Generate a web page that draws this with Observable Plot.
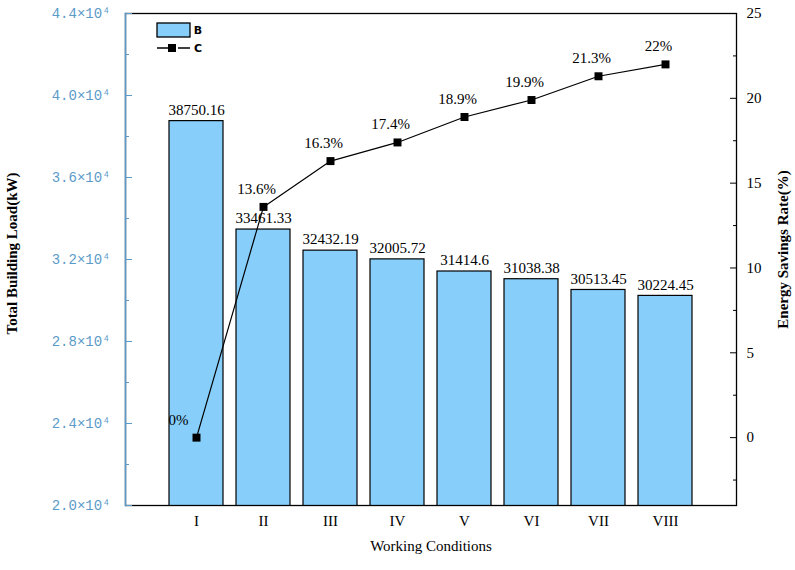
<!DOCTYPE html>
<html>
<head>
<meta charset="utf-8">
<script src="https://cdn.jsdelivr.net/npm/d3@7"></script>
<script src="https://cdn.jsdelivr.net/npm/@observablehq/plot@0.6"></script>
<style>
  html, body { margin: 0; padding: 0; background: #fff; }
  #chart { position: relative; width: 795px; height: 570px; }
</style>
</head>
<body>
<div id="chart"></div>
<script>
// ---- data ----
const categories = ["I", "II", "III", "IV", "V", "VI", "VII", "VIII"];
const buildingLoad = [38750.16, 33461.33, 32432.19, 32005.72, 31414.6, 31038.38, 30513.45, 30224.45];
const loadLabels = ["38750.16", "33461.33", "32432.19", "32005.72", "31414.6", "31038.38", "30513.45", "30224.45"];
const savingsRate = [0, 13.6, 16.3, 17.4, 18.9, 19.9, 21.3, 22];
const rateLabels = ["0%", "13.6%", "16.3%", "17.4%", "18.9%", "19.9%", "21.3%", "22%"];
const leftTicks = [20000, 24000, 28000, 32000, 36000, 40000, 44000];
const leftMinor = [22000, 26000, 30000, 34000, 38000, 42000];
const rightTicks = [0, 5, 10, 15, 20, 25];
const rightMinor = [-2.5, 2.5, 7.5, 12.5, 17.5, 22.5];
const leftDomain = [20000, 44000];
const rightDomain = [-4, 25];

// map right-axis (percent) values onto the left scale
const toLeft = p => leftDomain[0] + (p - rightDomain[0]) * (leftDomain[1] - leftDomain[0]) / (rightDomain[1] - rightDomain[0]);

const data = categories.map((c, i) => ({
  cat: c, load: buildingLoad[i], loadLabel: loadLabels[i],
  rate: savingsRate[i], rateLabel: rateLabels[i], yr: toLeft(savingsRate[i]), i
}));

const BLUE = "#5b9bc9";
const SERIF = "'Liberation Serif', 'Times New Roman', serif";
const MONO = "'Liberation Mono', 'DejaVu Sans Mono', monospace";

const sup = {"0":"⁰","1":"¹","2":"²","3":"³","4":"⁴","5":"⁵","6":"⁶","7":"⁷","8":"⁸","9":"⁹"};
const sci = v => (v / 1e4).toFixed(1) + "×10" + sup["4"];

const chart = Plot.plot({
  width: 795,
  height: 570,
  marginLeft: 125,
  marginRight: 59,
  marginTop: 13,
  marginBottom: 65,
  style: { fontFamily: SERIF, fontSize: "15px", background: "#fff", color: "#000", overflow: "visible" },
  x: { type: "band", domain: categories, paddingInner: 0.2, paddingOuter: 0.6, label: null },
  y: { domain: leftDomain, label: null },
  marks: [
    Plot.barY(data, { x: "cat", y: "load", fill: "#87cefa", stroke: "#000", strokeWidth: 1.2, clip: true }),
    Plot.text(data, { x: "cat", y: "load", text: "loadLabel", dy: -11, fontSize: 15, letterSpacing: 0.5 }),
    Plot.line(data, { x: "cat", y: "yr", stroke: "#000", strokeWidth: 1.2 }),
    Plot.dot(data, { x: "cat", y: "yr", symbol: "square", r: 4.5, fill: "#000", stroke: "none" }),
    Plot.text(data.filter(d => d.i > 0), { x: "cat", y: "yr", text: "rateLabel", dy: -18, dx: -7, fontSize: 15 }),
    Plot.text(data.filter(d => d.i === 0), { x: "cat", y: "yr", text: "rateLabel", dy: -17, dx: -18, fontSize: 15 }),
    // frame
    Plot.frame({ stroke: "#000", strokeWidth: 1.3 }),
    Plot.frame({ anchor: "left", stroke: BLUE, strokeWidth: 1.5 }),
    // left axis
    Plot.axisY({ anchor: "left", ticks: leftTicks, tickFormat: sci, tickSize: -7, tickPadding: 22,
      color: BLUE, fontFamily: MONO, fontSize: 14, label: null }),
    Plot.axisY({ anchor: "left", ticks: leftMinor, tickFormat: () => "", tickSize: -4, color: BLUE, label: null }),
    // right axis
    Plot.axisY({ anchor: "right", ticks: rightTicks.map(toLeft),
      tickFormat: v => String(Math.round(rightDomain[0] + (v - leftDomain[0]) * (rightDomain[1] - rightDomain[0]) / (leftDomain[1] - leftDomain[0]))),
      tickSize: -7, tickPadding: 17, color: "#000", fontSize: 15, label: null }),
    Plot.axisY({ anchor: "right", ticks: rightMinor.map(toLeft), tickFormat: () => "", tickSize: -4, color: "#000", label: null }),
    // x axis
    Plot.axisX({ tickSize: 0, tickPadding: 10, fontSize: 15, label: null }),
    // titles
    Plot.text(["Working Conditions"], { frameAnchor: "bottom", dy: 45, text: d => d, fontSize: 15, letterSpacing: 0.6 }),
    Plot.text(["Total Building Load(kW)"], { frameAnchor: "left", textAnchor: "middle", dx: -113, dy: -6, rotate: -90, text: d => d, fontSize: 15, letterSpacing: 0.6, fontWeight: "bold" }),
    Plot.text(["Energy Savings Rate(%)"], { frameAnchor: "right", textAnchor: "middle", dx: 47, dy: -10, rotate: -90, text: d => d, fontSize: 15, letterSpacing: 0.6, fontWeight: "bold" })
  ]
});

document.getElementById("chart").appendChild(chart);

// legend inside the plot area (top-left)
const svg = d3.select(chart);
const lg = svg.append("g").attr("font-family", "'DejaVu Sans', sans-serif").attr("font-size", 11).attr("font-weight", "bold");
lg.append("rect").attr("x", 157).attr("y", 23).attr("width", 33).attr("height", 14)
  .attr("fill", "#87cefa").attr("stroke", "#000").attr("stroke-width", 1.3);
lg.append("text").attr("x", 198).attr("y", 30).attr("dy", "0.35em").text("B");
lg.append("line").attr("x1", 157).attr("x2", 190).attr("y1", 48).attr("y2", 48).attr("stroke", "#000").attr("stroke-width", 1.3).attr("stroke-dasharray", "17,4,12");
lg.append("rect").attr("x", 168).attr("y", 44).attr("width", 8).attr("height", 8).attr("fill", "#000");
lg.append("text").attr("x", 198).attr("y", 48).attr("dy", "0.35em").text("C");
</script>
</body>
</html>
